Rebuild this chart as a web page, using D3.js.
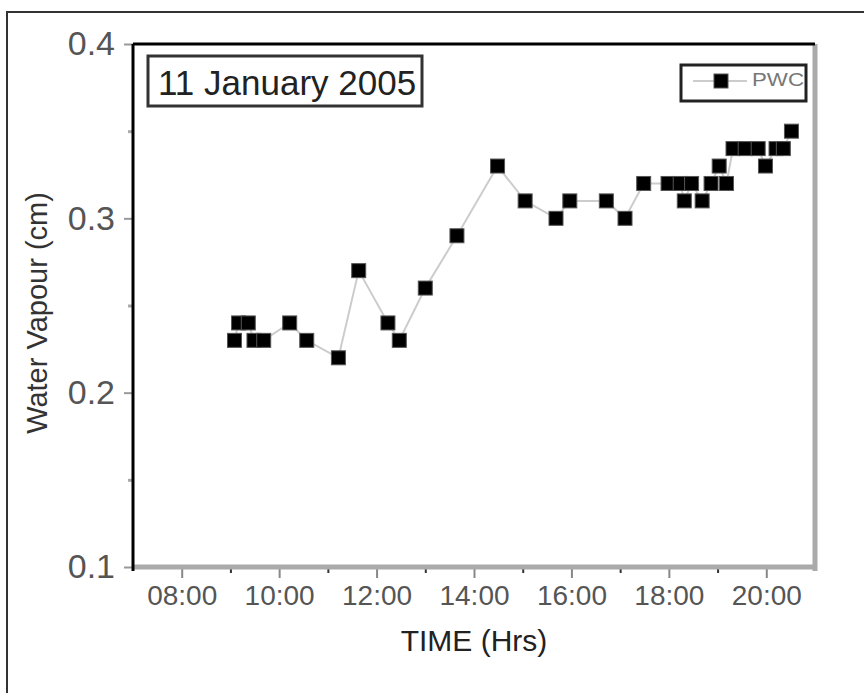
<!DOCTYPE html>
<html>
<head>
<meta charset="utf-8">
<script src="https://cdn.jsdelivr.net/npm/d3@7"></script>
<style>
  body { margin: 0; background: #fff; }
  svg text { font-family: "Liberation Sans", Arial, sans-serif; }
</style>
</head>
<body>
<svg class="pwc-plot" width="864" height="693"></svg>
<script>
/**********************
 Data
**********************/
var times = ["09:05","09:10","09:22","09:29","09:41","10:13","10:34","11:13","11:38","12:14",
             "12:28","13:00","13:39","14:29","15:03","15:41","15:58","16:43","17:06","17:29",
             "17:59","18:14","18:19","18:28","18:41","18:52","19:02","19:11","19:19","19:34",
             "19:50","19:59","20:12","20:21","20:31"];
var pwc = [0.23,0.24,0.24,0.23,0.23,0.24,0.23,0.22,0.27,0.24,
           0.23,0.26,0.29,0.33,0.31,0.30,0.31,0.31,0.30,0.32,
           0.32,0.32,0.31,0.32,0.31,0.32,0.33,0.32,0.34,0.34,
           0.34,0.33,0.34,0.34,0.35];
var xTickLabels = ["08:00","10:00","12:00","14:00","16:00","18:00","20:00"];
var yTicks = [0.1,0.2,0.3,0.4];
var title = "11 January 2005";
var seriesName = "PWC";

function toHours(s) {
  var p = s.split(":");
  return +p[0] + (+p[1]) / 60;
}
var dataset = times.map(function(t, i) { return {h: toHours(t), v: pwc[i]}; });

/**********************
 Layout
**********************/
var svg = d3.select('svg.pwc-plot');
var plot = {l: 133, r: 815, t: 44, b: 567};

var xScale = d3.scaleLinear().domain([7, 21]).range([plot.l, plot.r]);
var yScale = d3.scaleLinear().domain([0.1, 0.4]).range([plot.b, plot.t]);

// outer frame of the figure
svg.append('rect')
  .attr('x', 7).attr('y', 12).attr('width', 900).attr('height', 720)
  .attr('fill', 'none').attr('stroke', '#333').attr('stroke-width', 2);

/**********************
 Axes
**********************/
// x axis ticks + labels
var xMajor = xTickLabels.map(toHours);
var xAxisG = svg.append('g')
  .attr('transform', 'translate(0,' + plot.b + ')')
  .call(d3.axisBottom(xScale).tickValues(xMajor).tickSize(11).tickPadding(5)
        .tickFormat(function(d, i) { return xTickLabels[i]; }));
xAxisG.select('.domain').remove();
xAxisG.selectAll('line').attr('stroke', '#888').attr('stroke-width', 2);
xAxisG.selectAll('text').attr('font-size', 28).attr('fill', '#555').attr('dy', '0.78em');

var xMinorG = svg.append('g')
  .attr('transform', 'translate(0,' + plot.b + ')')
  .call(d3.axisBottom(xScale).tickValues([9,11,13,15,17,19]).tickSize(6).tickFormat(''));
xMinorG.select('.domain').remove();
xMinorG.selectAll('line').attr('stroke', '#333').attr('stroke-width', 2);

// y axis ticks + labels
var yAxisG = svg.append('g')
  .attr('transform', 'translate(' + plot.l + ',0)')
  .call(d3.axisLeft(yScale).tickValues(yTicks).tickSize(9).tickPadding(9)
        .tickFormat(d3.format('.1f')));
yAxisG.select('.domain').remove();
yAxisG.selectAll('line').attr('stroke', '#999').attr('stroke-width', 2);
yAxisG.selectAll('text').attr('font-size', 34).attr('fill', '#555');

var yMinorG = svg.append('g')
  .attr('transform', 'translate(' + plot.l + ',0)')
  .call(d3.axisLeft(yScale).tickValues([0.15,0.25,0.35]).tickSize(5).tickFormat(''));
yMinorG.select('.domain').remove();
yMinorG.selectAll('line').attr('stroke', '#aaa').attr('stroke-width', 3);

// plot frame: top/left black, right/bottom gray
svg.append('line').attr('x1', plot.l).attr('x2', plot.r).attr('y1', plot.b).attr('y2', plot.b)
  .attr('stroke', '#aaa').attr('stroke-width', 5);
svg.append('line').attr('x1', plot.r).attr('x2', plot.r).attr('y1', plot.t).attr('y2', plot.b + 4)
  .attr('stroke', '#aaa').attr('stroke-width', 5);
svg.append('line').attr('x1', plot.l).attr('x2', plot.r).attr('y1', plot.t).attr('y2', plot.t)
  .attr('stroke', '#000').attr('stroke-width', 3);
svg.append('line').attr('x1', plot.l).attr('x2', plot.l).attr('y1', plot.t).attr('y2', plot.b + 4)
  .attr('stroke', '#000').attr('stroke-width', 3);

// axis titles
svg.append('text')
  .attr('x', 474).attr('y', 651)
  .attr('text-anchor', 'middle').attr('font-size', 30).attr('fill', '#222')
  .text('TIME (Hrs)');
svg.append('text')
  .attr('transform', 'translate(47,313) rotate(-90)')
  .attr('text-anchor', 'middle').attr('font-size', 29).attr('fill', '#333')
  .text('Water Vapour (cm)');

/**********************
 Series
**********************/
var line = d3.line()
  .x(function(d) { return xScale(d.h); })
  .y(function(d) { return yScale(d.v); });

svg.append('path')
  .datum(dataset)
  .attr('d', line)
  .attr('fill', 'none').attr('stroke', '#ccc').attr('stroke-width', 2);

var sq = 14;
svg.selectAll('.dot')
  .data(dataset)
  .enter().append('rect')
  .attr('class', 'dot')
  .attr('x', function(d) { return xScale(d.h) - sq / 2; })
  .attr('y', function(d) { return yScale(d.v) - sq / 2; })
  .attr('width', sq).attr('height', sq)
  .attr('fill', '#000').attr('stroke', '#555').attr('stroke-width', 1);

/**********************
 Title box + legend
**********************/
svg.append('rect')
  .attr('x', 148).attr('y', 56).attr('width', 274).attr('height', 50)
  .attr('fill', '#fff').attr('stroke', '#333').attr('stroke-width', 3);
svg.append('text')
  .attr('x', 158).attr('y', 95).attr('font-size', 35).attr('fill', '#222')
  .text(title);

var legG = svg.append('g');
legG.append('rect')
  .attr('x', 681).attr('y', 65).attr('width', 125).attr('height', 36)
  .attr('fill', '#fff').attr('stroke', '#222').attr('stroke-width', 3);
legG.append('line')
  .attr('x1', 693).attr('x2', 747).attr('y1', 81).attr('y2', 81)
  .attr('stroke', '#ccc').attr('stroke-width', 2);
legG.append('rect')
  .attr('x', 714).attr('y', 74).attr('width', sq).attr('height', sq)
  .attr('fill', '#000').attr('stroke', '#555').attr('stroke-width', 1);
legG.append('text')
  .attr('x', 752).attr('y', 86).attr('font-size', 19).attr('fill', '#777')
  .attr('textLength', 52).attr('lengthAdjust', 'spacingAndGlyphs')
  .text(seriesName);
</script>
</body>
</html>
